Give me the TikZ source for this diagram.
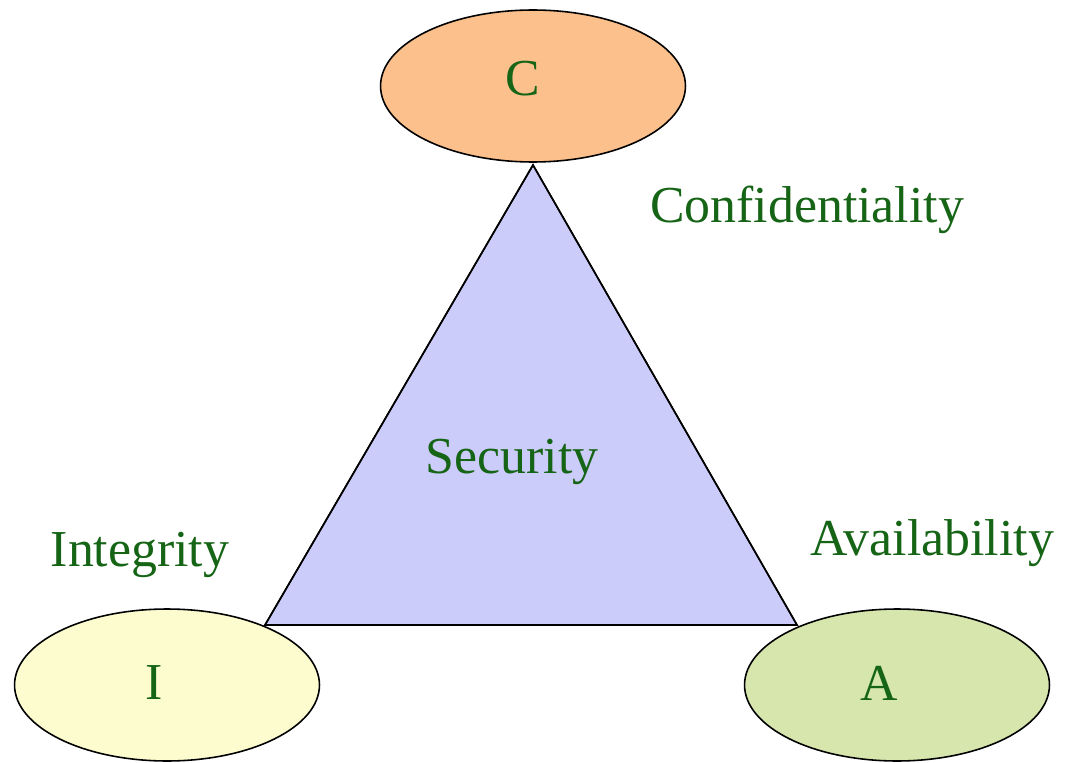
\documentclass[tikz,border=0pt]{standalone}
\usepackage{fontspec}
\setmainfont{Liberation Serif}
\usepackage{tikz}
\usetikzlibrary{shapes.geometric}

\definecolor{ciaorange}{RGB}{251,192,140}
\definecolor{ciablue}{RGB}{204,204,250}
\definecolor{ciayellow}{RGB}{252,252,206}
\definecolor{ciagreen}{RGB}{214,230,172}
\definecolor{ciatext}{RGB}{22,100,22}

\begin{document}
\begin{tikzpicture}[x=0.02cm,y=0.02cm,
  oval/.style={ellipse,draw=black,line width=0.9pt,inner sep=0pt,
    minimum width=6.1cm,minimum height=3.04cm},
  word/.style={text=ciatext,inner sep=0pt,font=\fontsize{29.5}{35}\selectfont}]
\useasboundingbox (0,0) rectangle (1065,762);
% the triangle
\coordinate (top) at (533,597);
\coordinate (left) at (265,137);
\coordinate (right) at (797,137);
\filldraw[fill=ciablue,draw=black,line width=0.9pt] (top) -- (left) -- (right) -- cycle;
% the three ellipses
\node[oval,fill=ciaorange] (conf) at (533,676) {};
\node[oval,fill=ciayellow] (integ) at (167,77) {};
\node[oval,fill=ciagreen] (avail) at (897,77) {};
\draw[line width=0.9pt] (top) -- (left) -- (right) -- cycle;
\node[word] (cletter) at (523,683) {C};
\node[word] (iletter) at (154,79) {I};
\node[word] (aletter) at (879,79) {A};
% labels
\node[word] (lconf) at (807,552) {Confidentiality};
\node[word] (lsec) at (512,300) {Security};
\node[word] (linteg) at (140,207) {Integrity};
\node[word] (lavail) at (932,219) {Availability};
\end{tikzpicture}
\end{document}
